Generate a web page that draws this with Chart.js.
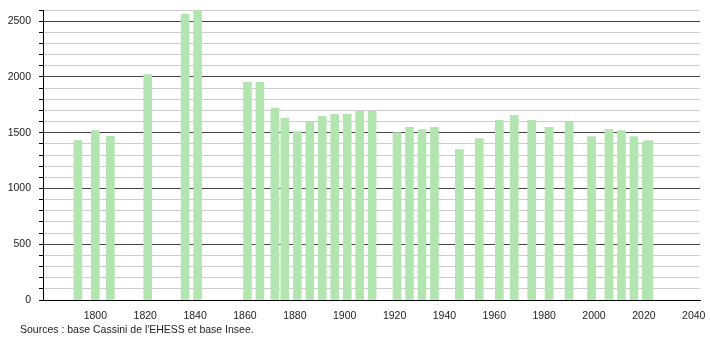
<!DOCTYPE html>
<html>
<head>
<meta charset="utf-8">
<script src="https://cdn.jsdelivr.net/npm/chart.js@4/dist/chart.umd.min.js"></script>
<style>
    body { margin: 0; background: #fff; }
    #wrap { position: relative; width: 710px; height: 340px; }
    #source {
        position: absolute; left: 20px; top: 323px;
        font-family: "Liberation Sans", Arial, sans-serif;
        font-size: 10.5px; color: #222;
    }
</style>
</head>
<body>
<div id="wrap">
    <canvas id="popChart" width="710" height="340"></canvas>
    <div id="source">Sources : base Cassini de l'EHESS et base Insee.</div>
</div>
<script>
// census years and population
const years = [1793, 1800, 1806, 1821, 1836, 1841, 1861, 1866, 1872, 1876,
    1881, 1886, 1891, 1896, 1901, 1906, 1911, 1921, 1926, 1931, 1936, 1946,
    1954, 1962, 1968, 1975, 1982, 1990, 1999, 2006, 2011, 2016, 2021, 2022];
const population = [1430, 1520, 1469, 2020, 2563, 2598, 1951, 1951, 1718, 1628,
    1511, 1598, 1646, 1664, 1664, 1694, 1694, 1502, 1547, 1529, 1547, 1349,
    1448, 1610, 1655, 1610, 1547, 1595, 1466, 1529, 1520, 1466, 1420, 1430];
const xTicks = [1800, 1820, 1840, 1860, 1880, 1900, 1920, 1940, 1960, 1980, 2000, 2020, 2040];
const yLabels = [0, 500, 1000, 1500, 2000, 2500];

const font = { family: "'Liberation Sans', Arial, sans-serif", size: 10.5 };

const points = years.map((y, i) => ({ x: y, y: population[i] }));

new Chart("popChart", {
    type: "bar",
    data: {
        datasets: [{
            data: points,
            backgroundColor: "#b2e5b0",
            borderWidth: 0,
            barThickness: 8
        }]
    },
    options: {
        responsive: false,
        animation: false,
        layout: { padding: { top: 10, right: 10, left: 0, bottom: 0 } },
        plugins: { legend: { display: false }, tooltip: { enabled: false } },
        scales: {
            x: {
                type: "linear",
                offset: false,
                min: 1779,
                max: 2042.5,
                afterBuildTicks: (scale) => {
                    scale.ticks = xTicks.map(v => ({ value: v }));
                },
                afterFit: (scale) => { scale.height = 40; },
                grid: { display: false, offset: false },
                border: { display: true, color: "#000", width: 1 },
                ticks: {
                    color: "#222",
                    font: font,
                    padding: 2,
                    maxRotation: 0,
                    autoSkip: false,
                    callback: (v) => String(v)
                }
            },
            y: {
                min: 0,
                max: 2600,
                afterFit: (scale) => {
                    scale.width = 43;
                    scale.paddingTop = 0;
                    scale.paddingBottom = 0;
                },
                border: { display: true, color: "#000", width: 1 },
                grid: {
                    color: (ctx) => ctx.tick && ctx.tick.value % 500 === 0 ? "#444" : "#cccccc",
                    tickColor: "#000",
                    tickLength: 4
                },
                ticks: {
                    stepSize: 100,
                    color: "#222",
                    font: font,
                    padding: 8,
                    autoSkip: false,
                    callback: (v) => yLabels.includes(v) ? String(v) : ""
                }
            }
        }
    }
});
</script>
</body>
</html>
